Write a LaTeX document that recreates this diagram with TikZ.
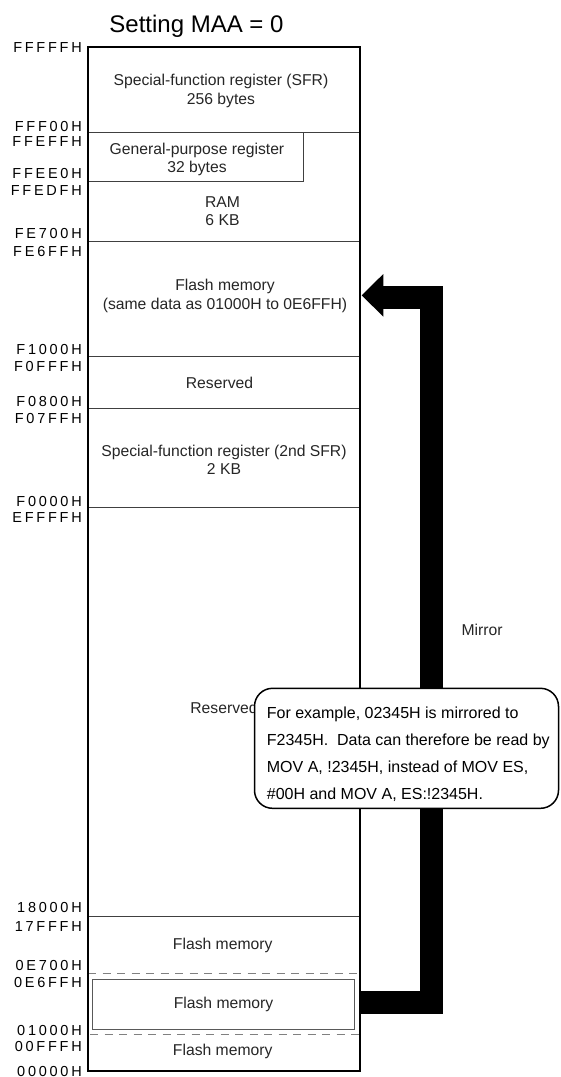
\documentclass[tikz,border=0pt]{standalone}
\usepackage{fontspec}
\setmainfont{Liberation Sans}
\newfontfamily\addrfont[LetterSpace=19]{Liberation Sans}
\begin{document}
\begin{tikzpicture}[x=1pt,y=-1pt,
  addr/.style={font=\addrfont\fontsize{14.5}{14.5}\selectfont, inner sep=0, anchor=base east},
  body/.style={font=\fontsize{15.7}{18.4}\selectfont, align=center, text=black!85, inner sep=0},
  notetext/.style={font=\fontsize{16}{16}\selectfont, inner sep=0, anchor=base west},
  divider/.style={draw=black!75, line width=0.9pt},
  dashline/.style={draw=black!50, line width=1.1pt, dash pattern=on 8pt off 6.5pt},
  mirrorbar/.style={line width=22.7pt, line join=miter}]
\useasboundingbox (0,0) rectangle (560,1077);
\fill[white] (0,0) rectangle (560,1077);

% title
\node[font=\fontsize{24}{24}\selectfont, anchor=base, inner sep=0] (title) at (196.5,32.3) {Setting MAA = 0};

% dividers
\draw[divider] (88,132.7) -- (360,132.7);
\draw[divider] (303,132.7) -- (303,181) -- (88,181);
\draw[divider] (88,241.7) -- (360,241.7);
\draw[divider] (88,356.7) -- (360,356.7);
\draw[divider] (88,408.3) -- (360,408.3);
\draw[divider] (88,507.7) -- (360,507.7);
\draw[divider] (88,916.7) -- (360,916.7);
\draw[dashline] (88,973.3) -- (361,973.3);
\draw[dashline] (90,1034.3) -- (361,1034.3);

% region texts
\node[body] (sfr) at (221,91) {Special-function register (SFR)\\256 bytes};
\node[body] (gpr) at (197,159.2) {General-purpose register\\32 bytes};
\node[body] (ram) at (222.5,211) {RAM\\6 KB};
\node[body] (flashmirror) at (225,296) {Flash memory\\(same data as 01000H to 0E6FFH)};
\node[body] (res1) at (219.5,382.7) {Reserved};
\node[body] (sfr2) at (224,459.7) {Special-function register (2nd SFR)\\2 KB};
\node[body] (res2) at (224,708) {Reserved};
\node[body] (flash1) at (222.7,945) {Flash memory};
\node[body, draw=black!65, line width=0.9pt, minimum width=261.6pt, minimum height=49.7pt] (flashlow) at (223.5,1004.2) {Flash memory};
\node[body] (flash0) at (222.7,1051.7) {Flash memory};

% outer frame
\draw[line width=2pt] (88,47) rectangle (360,1071.3);

% address labels
\node[addr] (a1) at (82,52.7) {FFFFFH};
\node[addr] (a2) at (82,131) {FFF00H};
\node[addr] (a3) at (82,146.7) {FFEFFH};
\node[addr] (a4) at (82,178) {FFEE0H};
\node[addr] (a5) at (82,195) {FFEDFH};
\node[addr] (a6) at (82,238) {FE700H};
\node[addr] (a7) at (82,256.7) {FE6FFH};
\node[addr] (a8) at (82,354) {F1000H};
\node[addr] (a9) at (82,371.7) {F0FFFH};
\node[addr] (a10) at (82,406.7) {F0800H};
\node[addr] (a11) at (82,423.3) {F07FFH};
\node[addr] (a12) at (82,506) {F0000H};
\node[addr] (a13) at (82,522.7) {EFFFFH};
\node[addr] (a14) at (82,912.7) {18000H};
\node[addr] (a15) at (82,931.7) {17FFFH};
\node[addr] (a16) at (82,970) {0E700H};
\node[addr] (a17) at (82,987) {0E6FFH};
\node[addr] (a18) at (82,1035) {01000H};
\node[addr] (a19) at (82,1051.7) {00FFFH};
\node[addr] (a20) at (82,1076) {00000H};

% mirror arrow
\coordinate (mA) at (361,1002.5);
\coordinate (mB) at (431.3,1002.5);
\coordinate (mC) at (431.3,297.7);
\coordinate (mD) at (382.5,297.7);
\coordinate (tipT) at (383.3,274);
\coordinate (tip) at (361.7,295.3);
\coordinate (tipB) at (383.3,316.7);
\draw[mirrorbar] (mA) -- (mB) -- (mC) -- (mD);
\fill (tipT) -- (tip) -- (tipB) -- cycle;
\node[body] (mirror) at (482,630) {Mirror};

% callout
\node[draw, line width=1.5pt, rounded corners=18pt, fill=white, minimum width=304pt, minimum height=120pt, inner sep=0] (note) at (406.5,748.3) {};
\node[notetext] (n1) at (266.7,718.3) {For example, 02345H is mirrored to};
\node[notetext] (n2) at (266.7,745.2) {F2345H.\ \ Data can therefore be read by};
\node[notetext] (n3) at (266.7,772.1) {MOV A, !2345H, instead of MOV ES,};
\node[notetext] (n4) at (266.7,799) {\#00H and MOV A, ES:!2345H.};
\end{tikzpicture}
\end{document}
